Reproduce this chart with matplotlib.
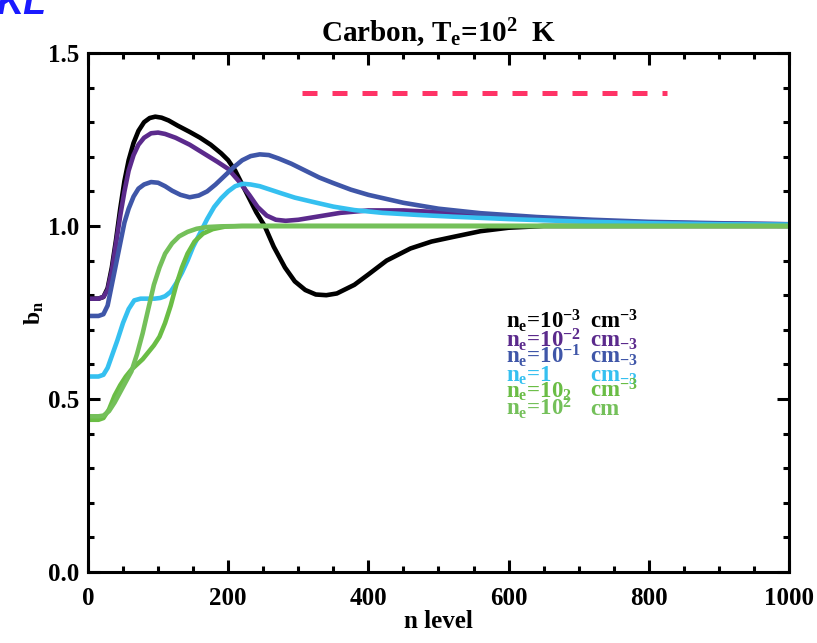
"""Departure coefficients b_n vs n level for carbon at Te = 100 K."""

import matplotlib
matplotlib.use("Agg")
import matplotlib.pyplot as plt
from matplotlib.ticker import MultipleLocator

plt.rcParams["font.family"] = ["Liberation Serif", "DejaVu Serif"]
plt.rcParams["font.weight"] = "bold"
plt.rcParams["axes.titleweight"] = "bold"
plt.rcParams["axes.labelweight"] = "bold"
plt.rcParams["mathtext.fontset"] = "custom"
plt.rcParams["mathtext.rm"] = "Liberation Serif:bold"
plt.rcParams["mathtext.it"] = "Liberation Serif:bold"
plt.rcParams["mathtext.bf"] = "Liberation Serif:bold"

# values
n_black = [0, 15, 22, 28, 34, 40, 46, 52, 58, 65, 72, 80, 88, 96, 105, 115, 128,
           145, 160, 175, 190, 200, 210, 220, 230, 240, 252, 265, 281, 295, 310,
           325, 340, 355, 380, 400, 426, 460, 490, 520, 560, 600, 650, 1000]
b_black = [0.79, 0.79, 0.795, 0.82, 0.88, 0.96, 1.05, 1.13, 1.19, 1.24, 1.275,
           1.30, 1.312, 1.316, 1.313, 1.305, 1.29, 1.272, 1.255, 1.235, 1.21, 1.19,
           1.16, 1.12, 1.08, 1.04, 1.0, 0.94, 0.88, 0.84, 0.815, 0.802, 0.80, 0.805,
           0.83, 0.86, 0.90, 0.935, 0.955, 0.968, 0.985, 0.995, 1.0, 1.0]

n_purple = [0, 15, 22, 28, 34, 40, 46, 52, 58, 65, 72, 80, 90, 100, 110, 125,
            145, 165, 185, 200, 215, 230, 242, 255, 268, 282, 300, 330, 360, 400,
            450, 520, 600, 700, 800, 900, 1000]
b_purple = [0.79, 0.79, 0.795, 0.815, 0.87, 0.95, 1.03, 1.10, 1.16, 1.205, 1.235,
            1.255, 1.268, 1.27, 1.266, 1.255, 1.235, 1.21, 1.185, 1.165, 1.13, 1.09,
            1.055, 1.03, 1.018, 1.015, 1.018, 1.028, 1.038, 1.045, 1.045, 1.038,
            1.027, 1.016, 1.01, 1.007, 1.005]

n_blue = [0, 15, 22, 28, 34, 40, 46, 52, 58, 65, 72, 80, 90, 100, 110, 120, 132,
          145, 158, 170, 182, 195, 208, 220, 232, 245, 258, 272, 290, 310, 330,
          350, 375, 400, 450, 500, 560, 640, 720, 800, 900, 1000]
b_blue = [0.74, 0.74, 0.745, 0.77, 0.83, 0.89, 0.95, 1.01, 1.05, 1.085, 1.108,
          1.12, 1.127, 1.125, 1.115, 1.102, 1.09, 1.083, 1.088, 1.10, 1.12, 1.145,
          1.17, 1.19, 1.202, 1.207, 1.205, 1.195, 1.18, 1.16, 1.14, 1.124, 1.105,
          1.09, 1.067, 1.05, 1.037, 1.026, 1.018, 1.012, 1.008, 1.005]

n_cyan = [0, 15, 22, 28, 35, 42, 50, 58, 66, 75, 85, 95, 103, 110, 118, 126, 134,
          142, 150, 160, 170, 180, 190, 200, 210, 221, 232, 245, 260, 275, 295,
          320, 350, 380, 420, 470, 520, 600, 700, 800, 900, 1000]
b_cyan = [0.565, 0.565, 0.57, 0.59, 0.63, 0.67, 0.72, 0.76, 0.785, 0.79, 0.79,
          0.79, 0.792, 0.797, 0.81, 0.835, 0.865, 0.90, 0.94, 0.98, 1.02, 1.055,
          1.08, 1.10, 1.115, 1.122, 1.12, 1.115, 1.105, 1.095, 1.082, 1.07, 1.056,
          1.046, 1.038, 1.032, 1.027, 1.02, 1.013, 1.008, 1.005, 1.004]

n_green1 = [0, 15, 22, 30, 38, 46, 54, 62, 70, 78, 86, 94, 102, 110, 120, 130,
            142, 155, 170, 190, 220, 1000]
b_green1 = [0.45, 0.45, 0.452, 0.465, 0.49, 0.52, 0.55, 0.58, 0.63, 0.69, 0.76,
            0.83, 0.88, 0.92, 0.95, 0.97, 0.983, 0.992, 0.997, 0.999, 1.0, 1.0]

n_green2 = [0, 15, 22, 30, 38, 46, 54, 62, 70, 78, 86, 94, 102, 110, 118, 126,
            134, 142, 152, 164, 178, 195, 220, 1000]
b_green2 = [0.44, 0.44, 0.445, 0.47, 0.51, 0.54, 0.565, 0.585, 0.60, 0.615, 0.635,
            0.655, 0.68, 0.72, 0.77, 0.83, 0.88, 0.92, 0.955, 0.978, 0.991, 0.998,
            1.0, 1.0]

ref_n = [305, 826]
ref_b = [1.384, 1.384]

colors = ["#000000", "#5b2a8c", "#3f56a8", "#35c0f0", "#6abd45", "#74c05a"]

fig = plt.figure(figsize=(8.17, 6.43), dpi=100)
ax = fig.add_axes([0.1077, 0.1104, 0.858, 0.8072])

curves = [(n_black, b_black), (n_purple, b_purple), (n_blue, b_blue),
          (n_cyan, b_cyan), (n_green2, b_green2), (n_green1, b_green1)]
for (n, b), c in zip(curves, colors):
    ax.plot(n, b, color=c, lw=3.3, solid_capstyle="round", solid_joinstyle="round")

ax.plot(ref_n, ref_b, color="#ff3366", lw=3.6, dashes=(3.0, 3.0),
        dash_capstyle="butt")

ax.set_xlim(0, 1000)
ax.set_ylim(0, 1.5)
ax.xaxis.set_major_locator(MultipleLocator(200))
ax.xaxis.set_minor_locator(MultipleLocator(50))
ax.yaxis.set_major_locator(MultipleLocator(0.5))
ax.yaxis.set_minor_locator(MultipleLocator(0.1))
ax.yaxis.set_major_formatter(plt.FuncFormatter(lambda v, p: f"{v:.1f}"))
ax.tick_params(which="both", direction="in", top=True, right=True, width=2.2)
ax.tick_params(which="major", length=8.5, labelsize=18)
ax.tick_params(axis="x", which="major", pad=11)
ax.tick_params(axis="y", which="major", pad=6)
ax.tick_params(which="minor", length=4.5)
for s in ax.spines.values():
    s.set_linewidth(2.2)

ax.set_xlabel("n level", fontsize=18, labelpad=0)
ax.set_ylabel(r"b$_{n}$", fontsize=17, labelpad=2)
ax.set_title(r"Carbon, T$_{e}$=10$^{2}$  K", fontsize=21, pad=8)

# legend text as drawn in the original (column for "n_e" and column for "cm")
left_txt = [r"n$_{e}$=10$^{-3}$", r"n$_{e}$=10$^{-2}$", r"n$_{e}$=10$^{-1}$",
            r"n$_{e}$=1", r"n$_{e}$=10$_{2}$", r"n$_{e}$=10$^{2}$"]
right_txt = [r"cm$^{-3}$", r"cm$_{-3}$", r"cm$_{-3}$", r"cm$_{-3}$",
             r"cm$^{-3}$", r"cm"]
rows_px = [328, 347, 363, 382, 398, 415]
for lt, rt, y, c in zip(left_txt, right_txt, rows_px, colors):
    fy = 1 - y / 643
    fig.text(506 / 817, fy, lt, color=c, fontsize=16.5, va="baseline")
    fig.text(590 / 817, fy, rt, color=c, fontsize=16.5, va="baseline")

fig.text(-0.004, 1 - 14 / 643, "KL", color="#1a1aff", fontsize=27,
         fontweight="bold", style="italic", family="Liberation Sans",
         va="baseline")

fig.savefig("out.png", dpi=100)
